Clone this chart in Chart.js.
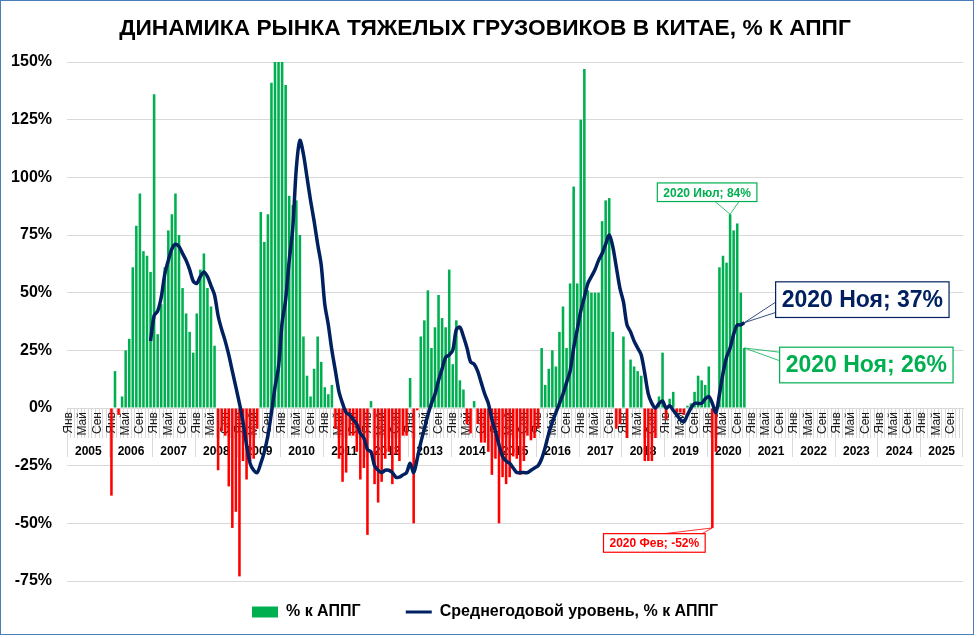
<!DOCTYPE html>
<html lang="ru">
<head>
<meta charset="utf-8">
<title>Динамика рынка тяжелых грузовиков в Китае</title>
<script src="https://cdn.jsdelivr.net/npm/chart.js"></script>
<style>
  html, body { margin: 0; padding: 0; background: #fff; }
  #wrap { position: relative; width: 977px; height: 638px; }
  #chart { position: absolute; left: 0; top: 0; }
  #frame { position: absolute; left: 0; top: 0; width: 972px; height: 633px; border: 1.5px solid #4a7ebb; pointer-events: none; }
</style>
</head>
<body>
<div id="wrap">
  <canvas id="chart" width="977" height="638"></canvas>
  <div id="frame"></div>
</div>
<script>
const firstYear = 2005;
const lastYear = 2025;
const monthNames = ['Янв', 'Фев', 'Мар', 'Апр', 'Май', 'Июн', 'Июл', 'Авг', 'Сен', 'Окт', 'Ноя', 'Дек'];

// % к АППГ, помесячно (первые данные - янв 2006)
const yoy2006 = [-38, 16, -3, 5, 25, 30, 61, 79, 93, 68, 66, 59];
const yoy2007 = [136, 32, 45, 61, 77, 84, 93, 75, 52, 41, 33, 24];
const yoy2008 = [41, 60, 67, 52, 44, 27, -27, -10, -12, -34, -52, -45];
const yoy2009 = [-73, -23, -31, -23, -22, -9, 85, 72, 84, 141, 165, 170];
const yoy2010 = [160, 140, 92, 88, 90, 75, 31, 14, 5, 17, 31, 20];
const yoy2011 = [9, 6, 10, -9, -22, -32, -28, -12, -12, -19, -31, -26];
const yoy2012 = [-55, 3, -33, -41, -32, -22, -19, -33, -20, -23, -12, -12];
const yoy2013 = [13, -50, -1, 31, 38, 51, 26, 35, 49, 39, 35, 60];
const yoy2014 = [19, 38, 12, 8, -7, -11, 3, -7, -15, -15, -19, -29];
const yoy2015 = [-22, -50, -30, -33, -30, -21, -22, -29, -23, -12, -14, -13];
const yoy2016 = [-9, 26, 10, 17, 25, 18, 33, 44, 26, 54, 96, 54];
const yoy2017 = [125, 147, 51, 50, 50, 50, 81, 90, 91, 33, -9, -7];
const yoy2018 = [31, -13, 21, 18, 16, 14, -23, -23, -23, -13, 5, 24];
const yoy2019 = [-5, 4, 7, -2, -2, -3, 1, 2, 7, 14, 12, 10];
const yoy2020 = [18, -52, -19, 61, 66, 63, 84, 77, 80, 50, 26];

// среднегодовой уровень (первое значение - дек 2006)
const avg2006 = [29];
const avg2007 = [40, 42, 48, 58, 64, 69, 71, 70, 67, 64, 60, 55];
const avg2008 = [54, 57, 59, 57, 53, 49, 40, 34, 29, 23, 16, 9];
const avg2009 = [2, -6, -16, -24, -27, -28, -24, -19, -12, -2, 9, 18];
const avg2010 = [37, 47, 64, 78, 104, 116, 110, 100, 90, 81, 71, 62];
const avg2011 = [45, 36, 25, 16, 7, 2, -2, -3, -5, -7, -11, -13];
const avg2012 = [-18, -19, -25, -27, -28, -27, -27, -28, -30, -30, -29, -28];
const avg2013 = [-24, -28, -22, -15, -9, -3, 2, 6, 12, 17, 22, 23];
const avg2014 = [25, 34, 35, 31, 26, 20, 19, 16, 11, 6, 2, -5];
const avg2015 = [-10, -16, -21, -23, -24, -26, -28, -28, -28, -28, -27, -26];
const avg2016 = [-25, -22, -17, -11, -6, -2, 2, 6, 11, 16, 26, 34];
const avg2017 = [42, 48, 54, 57, 60, 64, 67, 71, 75, 70, 61, 52];
const avg2018 = [46, 36, 33, 29, 26, 23, 15, 6, 2, 0, 2, 3];
const avg2019 = [0, 1, -1, -3, -5, -6, -3, 0, 2, 2, 2, 4];
const avg2020 = [5, 2, -2, 6, 15, 22, 26, 32, 36, 36, 37];

const GREEN = '#00B050';
const RED = '#FF0000';
const NAVY = '#002060';
const FONT = '"Liberation Sans", Arial, sans-serif';
const TITLE_FONT = '"Liberation Sans Narrow", "Liberation Sans", Arial, sans-serif';
const titleText = 'ДИНАМИКА РЫНКА ТЯЖЕЛЫХ ГРУЗОВИКОВ В КИТАЕ, % К АППГ';

// подписи-выноски: год, месяц, ряд
const callouts = [
  { ds: 0, year: 2020, month: 7, color: GREEN, size: 12, dx: -23, dy: -22, side: 'bottom', wedge: [0.58, 0.82] },
  { ds: 0, year: 2020, month: 2, color: RED, size: 12, dx: -58, dy: 15, side: 'top', wedge: [0.6, 0.97] },
  { ds: 1, year: 2020, month: 11, color: NAVY, size: 23, dx: 118, dy: -23, side: 'left', wedge: [0.57, 0.86] },
  { ds: 0, year: 2020, month: 11, color: GREEN, size: 23, dx: 122, dy: 17, side: 'left', wedge: [0.14, 0.38] }
];

const nMonths = (lastYear - firstYear + 1) * 12;
const labels = [];
for (let y = firstYear; y <= lastYear; y++) monthNames.forEach(m => labels.push(m));

const pad = n => Array(Math.max(n, 0)).fill(null);
const fill = arr => arr.concat(pad(nMonths - arr.length));
const yoy = fill([].concat(pad(12), yoy2006, yoy2007, yoy2008, yoy2009, yoy2010, yoy2011, yoy2012,
  yoy2013, yoy2014, yoy2015, yoy2016, yoy2017, yoy2018, yoy2019, yoy2020));
const avg = fill([].concat(pad(23), avg2006, avg2007, avg2008, avg2009, avg2010, avg2011, avg2012,
  avg2013, avg2014, avg2015, avg2016, avg2017, avg2018, avg2019, avg2020));

function fitFontSize(text, family, width) {
  const c = document.createElement('canvas').getContext('2d');
  c.font = 'bold 100px ' + family;
  return Math.min(27, 100 * width / c.measureText(text).width);
}
const titleSize = fitFontSize(titleText, TITLE_FONT, 732);
const titleLh = titleSize * 1.2;

const calloutPlugin = {
  id: 'callouts',
  afterDraw(chart) {
    const { ctx, scales } = chart;
    callouts.forEach(c => {
      const idx = (c.year - firstYear) * 12 + c.month - 1;
      const value = chart.data.datasets[c.ds].data[idx];
      const ax = scales.x.getPixelForValue(idx);
      const ay = scales.y.getPixelForValue(value);
      const text = `${c.year} ${monthNames[c.month - 1]}; ${value}%`;
      ctx.save();
      ctx.font = `bold ${c.size}px ${FONT}`;
      const w = ctx.measureText(text).width + 12;
      const h = c.size * 1.55;
      const bx = ax + c.dx - w / 2;
      const by = ay + c.dy - h / 2;
      ctx.strokeStyle = c.color;
      ctx.lineWidth = 0.8;
      c.wedge.forEach(t => {
        const p = c.side === 'left' ? [bx, by + h * t] : [bx + w * t, c.side === 'top' ? by : by + h];
        ctx.beginPath();
        ctx.moveTo(p[0], p[1]);
        ctx.lineTo(ax, ay);
        ctx.stroke();
      });
      ctx.fillStyle = '#fff';
      ctx.fillRect(bx, by, w, h);
      ctx.lineWidth = 1.2;
      ctx.strokeRect(bx, by, w, h);
      ctx.fillStyle = c.color;
      ctx.textAlign = 'center';
      ctx.textBaseline = 'middle';
      ctx.fillText(text, bx + w / 2, by + h / 2 + 1);
      ctx.restore();
    });
  }
};

new Chart(document.getElementById('chart'), {
  data: {
    labels,
    datasets: [
      {
        type: 'bar',
        label: '% к АППГ',
        data: yoy,
        backgroundColor: ctx => (ctx.raw >= 0 ? GREEN : RED),
        barPercentage: 0.72,
        categoryPercentage: 1,
        order: 2
      },
      {
        type: 'line',
        label: 'Среднегодовой уровень, % к АППГ',
        data: avg,
        borderColor: NAVY,
        borderWidth: 3.5,
        pointRadius: 0,
        tension: 0.3,
        order: 1
      }
    ]
  },
  options: {
    responsive: false,
    devicePixelRatio: 1,
    animation: false,
    layout: { padding: { left: 7, right: 14, top: 0, bottom: 8 } },
    plugins: {
      tooltip: { enabled: false },
      title: {
        display: true,
        text: titleText,
        color: '#000',
        font: { family: TITLE_FONT, size: titleSize, weight: 'bold' },
        padding: { top: 29 - titleLh / 2, bottom: 62 - 29 - titleLh / 2 }
      },
      legend: {
        position: 'bottom',
        labels: {
          usePointStyle: true,
          pointStyleWidth: 26,
          boxHeight: 11,
          padding: 23,
          color: '#000',
          font: { family: FONT, size: 16, weight: 'bold' },
          generateLabels: chart => chart.data.datasets.map((ds, i) => ({
            text: i === 0 ? ds.label + '\u00a0\u00a0\u00a0\u00a0\u00a0' : ds.label,
            fillStyle: i === 0 ? GREEN : NAVY,
            strokeStyle: i === 0 ? GREEN : NAVY,
            lineWidth: i === 0 ? 0 : 3,
            pointStyle: i === 0 ? 'rect' : 'line',
            fontColor: '#000',
            hidden: false,
            datasetIndex: i
          }))
        }
      }
    },
    scales: {
      x: {
        type: 'category',
        position: { y: 0 },
        offset: true,
        grid: { drawOnChartArea: false, drawTicks: true, tickLength: 29, offset: true, color: '#d9d9d9' },
        border: { display: true, color: '#d9d9d9' },
        ticks: {
          autoSkip: false, maxRotation: 90, minRotation: 90, padding: -25,
          color: '#1a1a1a', font: { family: FONT, size: 12 },
          callback: (v, i) => (i % 4 === 0 ? labels[i] : '')
        }
      },
      xYear: {
        type: 'category',
        position: { y: 0 },
        offset: true,
        grid: {
          drawOnChartArea: false, drawTicks: true, tickLength: 49, offset: true,
          color: c => (c.index === undefined || c.index % 12 === 0 ? '#d9d9d9' : 'rgba(0,0,0,0)')
        },
        border: { display: false },
        ticks: {
          autoSkip: false, maxRotation: 0, minRotation: 0, padding: -13, labelOffset: -1.8,
          color: '#000', font: { family: FONT, size: 12, weight: 'bold' },
          callback: (v, i) => (i % 12 === 6 ? String(firstYear + Math.floor(i / 12)) : '')
        }
      },
      y: {
        min: -75,
        max: 150,
        afterFit: s => { s.width = 60; },
        grid: { color: '#d9d9d9', drawTicks: false },
        border: { display: false },
        ticks: {
          stepSize: 25, padding: 15, color: '#000',
          font: { family: FONT, size: 16, weight: 'bold' },
          callback: v => v + '%'
        }
      }
    }
  },
  plugins: [calloutPlugin]
});
</script>
</body>
</html>
